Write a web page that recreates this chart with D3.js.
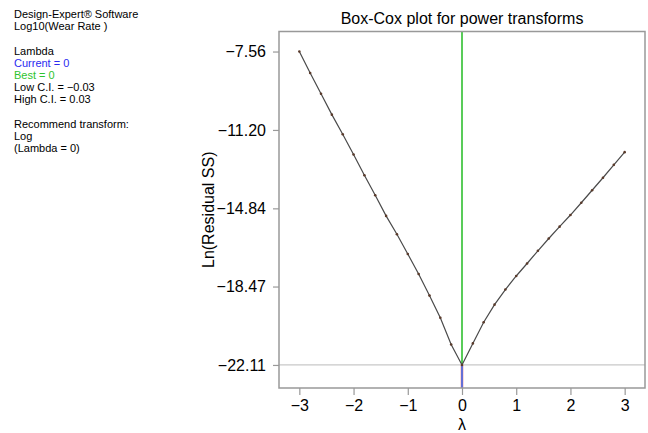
<!DOCTYPE html>
<html>
<head>
<meta charset="utf-8">
<script src="https://cdn.jsdelivr.net/npm/d3@7"></script>
<style>
  body { margin: 0; background: #fff; }
  svg { font-family: "Liberation Sans", Arial, sans-serif; }
</style>
</head>
<body>
<div id="chart"></div>
<script>
// Box-Cox data
const lambdas = [-3, -2.8, -2.6, -2.4, -2.2, -2, -1.8, -1.6, -1.4, -1.2, -1, -0.8, -0.6, -0.4, -0.2,
  0, 0.2, 0.4, 0.6, 0.8, 1, 1.2, 1.4, 1.6, 1.8, 2, 2.2, 2.4, 2.6, 2.8, 3];
const lnSS = [-7.56, -8.56, -9.52, -10.49, -11.40, -12.34, -13.30, -14.23, -15.19, -16.04, -16.96,
  -17.89, -18.89, -19.92, -21.16, -22.11, -21.11, -20.13, -19.31, -18.61, -17.98, -17.40, -16.81,
  -16.24, -15.69, -15.15, -14.58, -14.00, -13.42, -12.82, -12.23];
const xTicks = [-3, -2, -1, 0, 1, 2, 3];
const yTicks = [-7.56, -11.20, -14.84, -18.47, -22.11];
const current = 0, best = 0, lowCI = -0.03, highCI = 0.03;
const infoLines = [
  {text: 'Design-Expert® Software', color: '#000'},
  {text: 'Log10(Wear Rate )', color: '#000'},
  {text: '', color: '#000'},
  {text: 'Lambda', color: '#000'},
  {text: 'Current = 0', color: '#2b2bf0'},
  {text: 'Best = 0', color: '#2ec42e'},
  {text: 'Low C.I. = \u22120.03', color: '#000'},
  {text: 'High C.I. = 0.03', color: '#000'},
  {text: '', color: '#000'},
  {text: 'Recommend transform:', color: '#000'},
  {text: 'Log', color: '#000'},
  {text: '(Lambda = 0)', color: '#000'}
];

const W = 648, H = 433;
const margin = {top: 31.5, right: 3, bottom: 45, left: 279};
const width = W - margin.left - margin.right;
const height = H - margin.top - margin.bottom;
const minus = s => s.replace('-', '\u2212');

const svg = d3.select('#chart').append('svg')
  .attr('width', W).attr('height', H);

// info text on the left
svg.append('g').selectAll('text').data(infoLines).join('text')
  .attr('x', 14)
  .attr('y', (d, i) => 18 + i * 12.2)
  .attr('font-size', 11)
  .attr('fill', d => d.color)
  .text(d => d.text);

const xScale = d3.scaleLinear().domain([-3.375, 3.375]).range([0, width]);
const yScale = d3.scaleLinear().domain([-23.18, -6.63]).range([height, 0]);

const g = svg.append('g')
  .attr('transform', `translate(${margin.left},${margin.top})`);

// CI band and current / best lines
const yMin = yScale(d3.min(lnSS));
g.append('rect')
  .attr('x', xScale(lowCI)).attr('y', yMin)
  .attr('width', xScale(highCI) - xScale(lowCI)).attr('height', height - yMin)
  .attr('fill', '#f7c4c4');
g.append('line')
  .attr('x1', xScale(current)).attr('x2', xScale(current))
  .attr('y1', yMin).attr('y2', height)
  .attr('stroke', '#3355dd').attr('stroke-width', 1.5);
g.append('line')
  .attr('x1', xScale(best)).attr('x2', xScale(best))
  .attr('y1', 0).attr('y2', yMin)
  .attr('stroke', '#22bb22').attr('stroke-width', 1.5);

// reference line at min
g.append('line')
  .attr('x1', 0).attr('x2', width)
  .attr('y1', yMin).attr('y2', yMin)
  .attr('stroke', '#c8c8c8').attr('stroke-width', 1.2);

// curve
const pts = lambdas.map((l, i) => [l, lnSS[i]]);
const line = d3.line().x(d => xScale(d[0])).y(d => yScale(d[1]));
g.append('path').datum(pts)
  .attr('d', line)
  .attr('fill', 'none')
  .attr('stroke', '#4a4a4a')
  .attr('stroke-width', 1.2);
g.selectAll('circle').data(pts).join('circle')
  .attr('cx', d => xScale(d[0]))
  .attr('cy', d => yScale(d[1]))
  .attr('r', 1.3)
  .attr('fill', '#5a3a2a');

// frame
g.append('rect')
  .attr('width', width).attr('height', height)
  .attr('fill', 'none').attr('stroke', '#999').attr('stroke-width', 1.5);

// axes
const xAxis = d3.axisBottom(xScale).tickValues(xTicks)
  .tickSize(7).tickPadding(5).tickFormat(d => minus(String(d)));
const yAxis = d3.axisLeft(yScale).tickValues(yTicks)
  .tickSize(6).tickPadding(7).tickFormat(d => minus(d.toFixed(2)));

const xAxisG = g.append('g').attr('transform', `translate(0,${height})`).call(xAxis);
const yAxisG = g.append('g').call(yAxis);
[xAxisG, yAxisG].forEach(a => {
  a.select('.domain').remove();
  a.selectAll('line').attr('stroke', '#999').attr('stroke-width', 1.2);
  a.selectAll('text').attr('font-size', 16).attr('fill', '#000')
    .attr('font-family', '"Liberation Sans", Arial, sans-serif');
});

// title and axis labels
svg.append('text')
  .attr('x', margin.left + width / 2 + 0).attr('y', 24)
  .attr('text-anchor', 'middle').attr('font-size', 16)
  .text('Box-Cox plot for power transforms');
svg.append('text')
  .attr('x', margin.left + xScale(0)).attr('y', 430)
  .attr('text-anchor', 'middle').attr('font-size', 16)
  .text('\u03bb');
svg.append('text')
  .attr('transform', `translate(214,${margin.top + height / 2}) rotate(-90)`)
  .attr('text-anchor', 'middle').attr('font-size', 16)
  .text('Ln(Residual SS)');
</script>
</body>
</html>
